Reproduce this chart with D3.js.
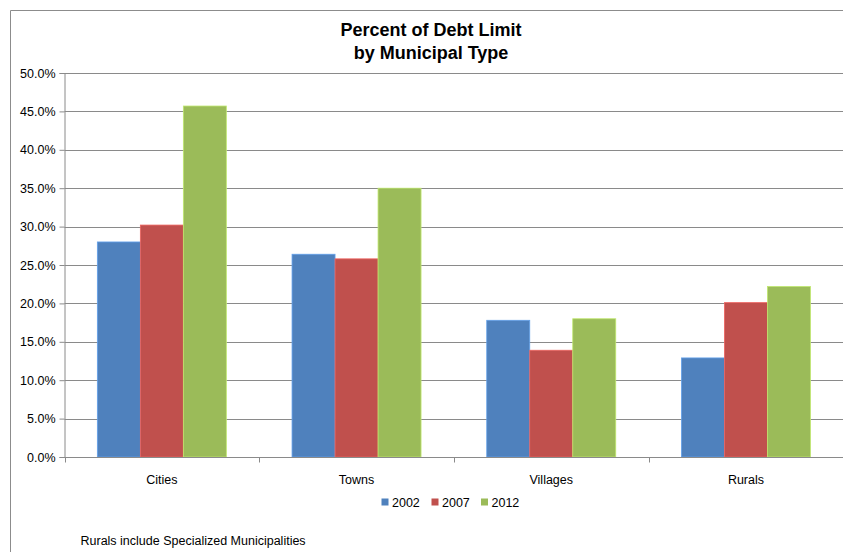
<!DOCTYPE html>
<html>
<head>
<meta charset="utf-8">
<script src="https://cdn.jsdelivr.net/npm/d3@7"></script>
<style>
  body { margin: 0; background: #fff; }
  text { font-family: "Liberation Sans Narrow", "Arial Narrow", "Liberation Sans", sans-serif; }
</style>
</head>
<body>
<div id="chart"></div>
<script>
// Data
const categories = ["Cities", "Towns", "Villages", "Rurals"];
const years = ["2002", "2007", "2012"];
const values2002 = [0.280, 0.264, 0.178, 0.129];
const values2007 = [0.302, 0.258, 0.139, 0.201];
const values2012 = [0.457, 0.350, 0.180, 0.222];
const yTicks = [0, 0.05, 0.10, 0.15, 0.20, 0.25, 0.30, 0.35, 0.40, 0.45, 0.50];
const colors = ["#4F81BD", "#C0504D", "#9BBB59"];

const seriesValues = [values2002, values2007, values2012];
const rows = categories.map((c, i) => ({
    category: c,
    bars: years.map((y, j) => ({ year: y, value: seriesValues[j][i] }))
}));

// Dimensions
const width = 843;
const height = 552;
const margin = { top: 73, right: 0, bottom: 95, left: 64.5 };

const svg = d3.select("#chart")
    .append("svg")
    .attr("width", width)
    .attr("height", height);

svg.append("rect")
    .attr("width", width).attr("height", height)
    .attr("fill", "#fff");

// outer chart frame (cropped on right/bottom)
svg.append("path")
    .attr("d", `M10.5,${height}V10.5H${width}`)
    .attr("fill", "none")
    .attr("stroke", "#8c8c8c")
    .attr("stroke-width", 1);

// Scales
const x0 = d3.scaleBand()
    .domain(categories)
    .range([margin.left, 843.3])
    .padding(0);

const x1 = d3.scaleBand()
    .domain(years)
    .range([0, x0.bandwidth()])
    .paddingInner(0)
    .paddingOuter(0.764);

const y = d3.scaleLinear()
    .domain([0, 0.5])
    .range([height - margin.bottom, margin.top]);

// Gridlines
svg.append("g")
    .selectAll("line")
    .data(yTicks.slice(1))
    .enter()
    .append("line")
    .attr("x1", margin.left)
    .attr("x2", width)
    .attr("y1", d => Math.round(y(d)) + 0.5)
    .attr("y2", d => Math.round(y(d)) + 0.5)
    .attr("stroke", "#8a8a8a")
    .attr("stroke-width", 1.2);

// Bars
svg.append("g")
    .selectAll("g")
    .data(rows)
    .enter()
    .append("g")
    .attr("transform", d => `translate(${x0(d.category)},0)`)
    .selectAll("rect")
    .data(d => d.bars)
    .enter()
    .append("rect")
    .attr("x", d => x1(d.year))
    .attr("y", d => y(d.value))
    .attr("width", x1.bandwidth())
    .attr("height", d => y(0) - y(d.value))
    .attr("fill", (d, i) => colors[i])
    .attr("stroke", (d, i) => d3.color(colors[i]).brighter(0.6))
    .attr("stroke-width", 0.8);

// Y axis
const yAxis = svg.append("g")
    .attr("transform", `translate(${margin.left},0)`)
    .call(d3.axisLeft(y).tickValues(yTicks).tickFormat(d3.format(".1%")).tickSize(5).tickPadding(4));
yAxis.select(".domain").attr("stroke", "#8a8a8a");
yAxis.selectAll(".tick line").attr("stroke", "#8a8a8a");
yAxis.selectAll(".tick text")
    .attr("fill", "#000")
    .style("font-size", "12.5px");

// X axis
const xAxis = svg.append("g")
    .attr("transform", `translate(0,${Math.round(y(0)) + 0.5})`);
xAxis.append("line")
    .attr("x1", margin.left).attr("x2", width)
    .attr("stroke", "#8a8a8a");
xAxis.selectAll(".cat-tick")
    .data(categories)
    .enter()
    .append("line")
    .attr("class", "cat-tick")
    .attr("x1", d => Math.round(x0(d)) + 0.5)
    .attr("x2", d => Math.round(x0(d)) + 0.5)
    .attr("y1", 0).attr("y2", 5)
    .attr("stroke", "#8a8a8a");
xAxis.selectAll(".cat-label")
    .data(categories)
    .enter()
    .append("text")
    .attr("class", "cat-label")
    .attr("x", d => x0(d) + x0.bandwidth() / 2)
    .attr("y", 26)
    .attr("text-anchor", "middle")
    .style("font-size", "12.5px")
    .text(d => d);

// Title
svg.append("text")
    .attr("x", 431)
    .attr("y", 36)
    .attr("text-anchor", "middle")
    .style("font-size", "18px")
    .style("font-weight", "bold")
    .text("Percent of Debt Limit");
svg.append("text")
    .attr("x", 431)
    .attr("y", 59)
    .attr("text-anchor", "middle")
    .style("font-size", "18px")
    .style("font-weight", "bold")
    .text("by Municipal Type");

// Legend
const legendX = [381.5, 431.5, 481];
const legend = svg.append("g")
    .selectAll("g")
    .data(years)
    .enter()
    .append("g")
    .attr("transform", (d, i) => `translate(${legendX[i]},502)`);
legend.append("rect")
    .attr("x", 0).attr("y", -3.5)
    .attr("width", 7).attr("height", 7)
    .attr("fill", (d, i) => colors[i]);
legend.append("text")
    .attr("x", 10.5)
    .attr("y", 4.5)
    .style("font-size", "12.5px")
    .text(d => d);

// Footnote
svg.append("text")
    .attr("x", 80.5)
    .attr("y", 545)
    .style("font-size", "12.5px")
    .text("Rurals include Specialized Municipalities");
</script>
</body>
</html>
